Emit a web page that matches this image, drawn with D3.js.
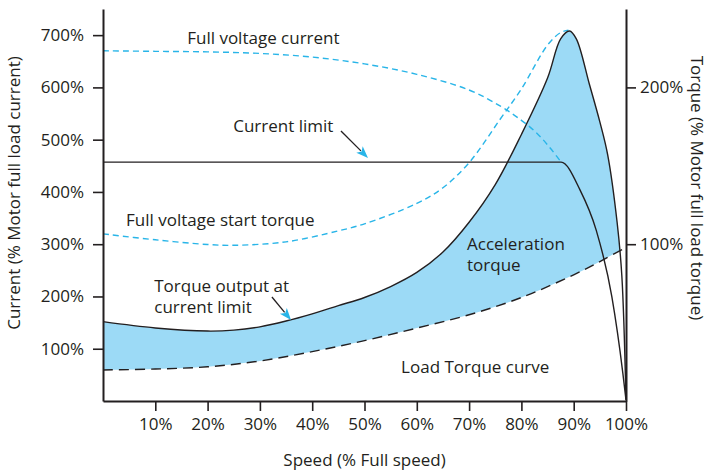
<!DOCTYPE html>
<html>
<head>
<meta charset="utf-8">
<script src="https://cdn.jsdelivr.net/npm/d3@7"></script>
<style>
  body { margin: 0; background: #fff; }
  text { font-family: "Open Sans", sans-serif; fill: #231f20; }
</style>
</head>
<body>
<div id="chart-area"></div>
<script>
// tick values
var speedTicks = [10, 20, 30, 40, 50, 60, 70, 80, 90, 100];
var currentTicks = [100, 200, 300, 400, 500, 600, 700];
var torqueTicks = [100, 200];

// torque output at current limit (% torque)
var tqSpeed = [0, 10, 20, 25, 30, 35, 40, 45, 50, 55, 60, 65, 70, 75, 80, 85, 87.5, 89.2, 90.5, 93, 95, 96.5, 98.3, 99.2, 100];
var tqValue = [50.6, 46.6, 44.6, 45.2, 47.3, 51, 55.6, 60.8, 66, 73, 82, 95, 114, 138, 170, 206, 231, 236, 231, 202, 178, 157, 114, 80, 1];

// load torque curve (% torque)
var loadSpeed = [0, 10, 20, 30, 40, 50, 60, 70, 80, 90, 95.6, 100];
var loadValue = [19.8, 20.4, 21.8, 25.5, 31.5, 38.5, 46.5, 55, 66, 80.5, 90, 98];

// current limit (% current)
var limSpeed = [0, 87.6, 91.2, 94.3, 97.3, 99.4, 100];
var limValue = [457, 457, 404, 327, 199, 53, 2];

// full voltage current (% current)
var fvcSpeed = [0, 10, 20, 30, 40, 50, 60, 70, 76, 80, 83, 85.5, 87.6];
var fvcValue = [670, 669, 668, 665, 658, 645, 625, 595, 564, 537, 512, 484, 457];

// full voltage start torque (% torque)
var fvtSpeed = [0, 10, 20, 25, 35, 45, 50, 60, 65, 70, 76, 80, 85, 87.5, 89];
var fvtValue = [106.6, 102.8, 99.8, 99.3, 101.5, 108.5, 113, 126, 136, 152, 180, 199, 227, 235, 236.5];

var blue = "#29b5e8";
var fillBlue = "#9cdaf6";
var ink = "#231f20";

var width = 709, height = 470;
var svg = d3.select("#chart-area")
    .append("svg")
    .attr("width", width)
    .attr("height", height);

var x = d3.scaleLinear().domain([0, 100]).range([103, 626]);
var yC = d3.scaleLinear().domain([0, 750]).range([401, 9]);
var yT = d3.scaleLinear().domain([0, 250]).range([401, 9]);

function pts(xs, ys) { return xs.map((s, i) => [s, ys[i]]); }

var curve = d3.curveCatmullRom.alpha(0.5);
var tqLine = d3.line().x(d => x(d[0])).y(d => yT(d[1])).curve(curve);
var cLine = d3.line().x(d => x(d[0])).y(d => yC(d[1])).curve(curve);
// flat segment then drop: monotone keeps the limit line level
var limLine = d3.line().x(d => x(d[0])).y(d => yC(d[1])).curve(d3.curveMonotoneX);

// acceleration torque fill: below torque curve, above load curve
svg.append("clipPath").attr("id", "aboveLoad")
    .append("path")
    .attr("d", d3.area().x(d => x(d[0])).y0(yT(250)).y1(d => yT(d[1]))
        .curve(curve)(pts(loadSpeed, loadValue)));

svg.append("path")
    .attr("d", d3.area().x(d => x(d[0])).y0(yT(0)).y1(d => yT(d[1]))
        .curve(curve)(pts(tqSpeed, tqValue)))
    .attr("fill", fillBlue)
    .attr("clip-path", "url(#aboveLoad)");

svg.append("path")
    .attr("d", tqLine(pts(loadSpeed, loadValue)))
    .attr("fill", "none").attr("stroke", ink).attr("stroke-width", 1.4)
    .attr("stroke-dasharray", "10,6");

svg.append("path")
    .attr("d", tqLine(pts(fvtSpeed, fvtValue)))
    .attr("fill", "none").attr("stroke", blue).attr("stroke-width", 1.4)
    .attr("stroke-dasharray", "6,4");

svg.append("path")
    .attr("d", cLine(pts(fvcSpeed, fvcValue)))
    .attr("fill", "none").attr("stroke", blue).attr("stroke-width", 1.4)
    .attr("stroke-dasharray", "6,4");

svg.append("path")
    .attr("d", tqLine(pts(tqSpeed, tqValue)))
    .attr("fill", "none").attr("stroke", ink).attr("stroke-width", 1.4);

svg.append("path")
    .attr("d", limLine(pts(limSpeed, limValue)))
    .attr("fill", "none").attr("stroke", ink).attr("stroke-width", 1.4);

// axes
var xAxisCall = d3.axisBottom(x).tickValues(speedTicks).tickFormat(d => d + "%")
    .tickSize(10).tickSizeOuter(0).tickPadding(7);
var yAxisCall = d3.axisLeft(yC).tickValues(currentTicks).tickFormat(d => d + "%")
    .tickSize(10).tickSizeOuter(0).tickPadding(9);
var y2AxisCall = d3.axisRight(yT).tickValues(torqueTicks).tickFormat(d => d + "%")
    .tickSize(10).tickSizeOuter(0).tickPadding(4);

var xAxisGroup = svg.append("g").attr("transform", "translate(0," + yC(0) + ")").call(xAxisCall);
var yAxisGroup = svg.append("g").attr("transform", "translate(" + x(0) + ",0)").call(yAxisCall);
var y2AxisGroup = svg.append("g").attr("transform", "translate(" + x(100) + ",0)").call(y2AxisCall);

[xAxisGroup, yAxisGroup, y2AxisGroup].forEach(g => {
    g.select(".domain").attr("stroke", ink).attr("stroke-width", 2);
    g.selectAll(".tick line").attr("stroke", ink).attr("stroke-width", 1.6);
    g.selectAll(".tick text").attr("font-size", 17).attr("font-family", "Open Sans").attr("fill", ink);
});

svg.append("text")
    .attr("x", x(50)).attr("y", 466)
    .attr("text-anchor", "middle").attr("font-size", 17)
    .text("Speed (% Full speed)");

svg.append("text")
    .attr("transform", "translate(20,193) rotate(-90)")
    .attr("text-anchor", "middle").attr("font-size", 17)
    .text("Current (% Motor full load current)");

svg.append("text")
    .attr("transform", "translate(691,188) rotate(90)")
    .attr("text-anchor", "middle").attr("font-size", 17)
    .text("Torque (% Motor full load torque)");

// annotations (speed, current)
var labels = [
    { s: 16.1, c: 683, lines: ["Full voltage current"] },
    { s: 24.9, c: 515, lines: ["Current limit"] },
    { s: 4.4, c: 335, lines: ["Full voltage start torque"] },
    { s: 9.8, c: 209.5, lines: ["Torque output at", "current limit"] },
    { s: 69.6, c: 288, lines: ["Acceleration", "torque"] },
    { s: 57, c: 54.5, lines: ["Load Torque curve"] }
];

labels.forEach(l => {
    var t = svg.append("text")
        .attr("x", x(l.s)).attr("y", yC(l.c))
        .attr("font-size", 17);
    l.lines.forEach((line, i) => {
        t.append("tspan").attr("x", x(l.s)).attr("dy", i === 0 ? 0 : 21).text(line);
    });
});

var arrows = [
    { from: [45.5, 516.6], to: [50.67, 465] },
    { from: [32.3, 199], to: [35.95, 155] }
];

arrows.forEach(a => {
    var x0 = x(a.from[0]), y0 = yC(a.from[1]);
    var x1 = x(a.to[0]), y1 = yC(a.to[1]);
    var ang = Math.atan2(y1 - y0, x1 - x0);
    var len = 12, half = 4.5;
    var bx = x1 - len * Math.cos(ang), by = y1 - len * Math.sin(ang);
    svg.append("line")
        .attr("x1", x0).attr("y1", y0).attr("x2", bx + 2 * Math.cos(ang)).attr("y2", by + 2 * Math.sin(ang))
        .attr("stroke", ink).attr("stroke-width", 1.3);
    var px = -Math.sin(ang), py = Math.cos(ang);
    svg.append("path")
        .attr("d", "M" + x1 + "," + y1 +
            "L" + (bx + half * px) + "," + (by + half * py) +
            "L" + (bx + 3 * Math.cos(ang)) + "," + (by + 3 * Math.sin(ang)) +
            "L" + (bx - half * px) + "," + (by - half * py) + "Z")
        .attr("fill", blue);
});
</script>
</body>
</html>
